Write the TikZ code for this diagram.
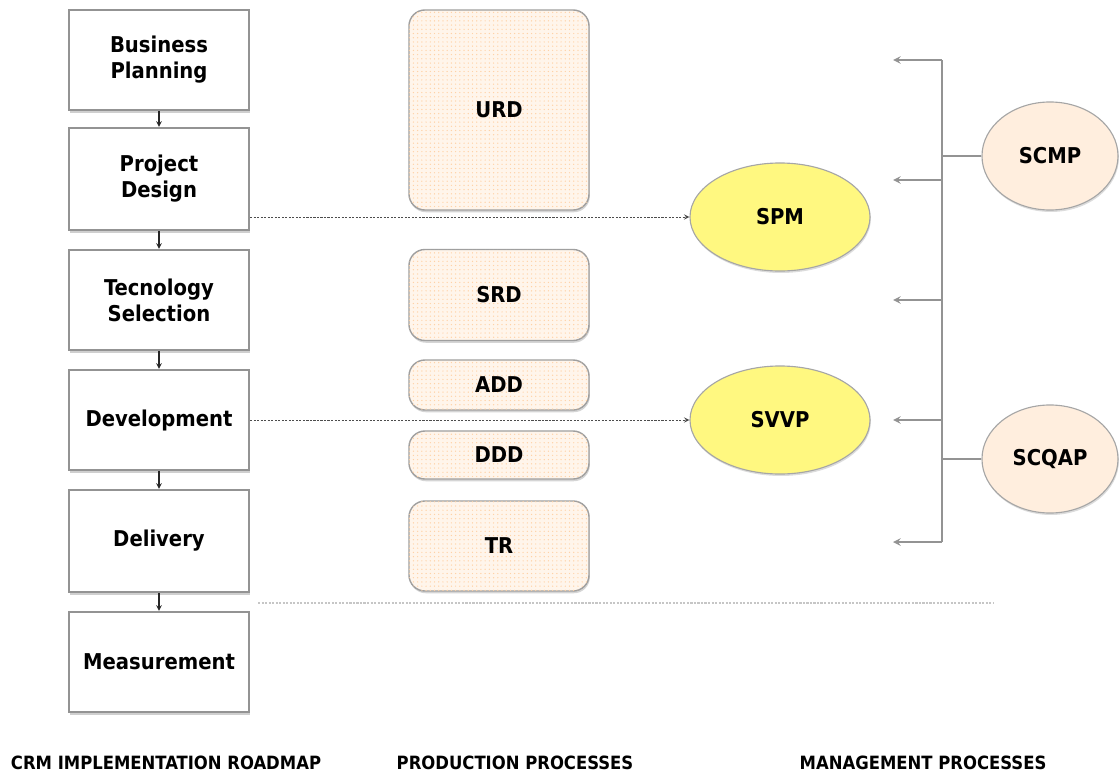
\documentclass[tikz,border=0pt]{standalone}
\usepackage{fontspec}
\setmainfont{DejaVu Sans Condensed}
\usetikzlibrary{shapes.geometric,shadows,patterns,positioning}

\tikzset{
  stage/.style={draw=gray!85,line width=1.6pt,fill=white,minimum width=4.5cm,
    align=center,font=\bfseries\fontsize{15.5}{18.5}\selectfont,
    drop shadow={shadow xshift=0.6pt,shadow yshift=-1.8pt,fill=gray!75}},
  proddoc/.style={draw=gray!75,line width=1pt,rounded corners=0.4cm,fill=orange!8,
    postaction={pattern=dots,pattern color=orange!35},minimum width=4.5cm,
    font=\bfseries\fontsize{15.5}{18.5}\selectfont,
    drop shadow={shadow xshift=0.6pt,shadow yshift=-1.6pt,fill=gray!65}},
  plan/.style={ellipse,draw=gray!70,line width=0.8pt,fill=yellow!50,
    minimum width=4.5cm,minimum height=2.7cm,font=\bfseries\fontsize{15.5}{18.5}\selectfont,
    drop shadow={shadow xshift=0.6pt,shadow yshift=-1.4pt,fill=gray!55}},
  mgmt/.style={ellipse,draw=gray!70,line width=0.8pt,fill=orange!13,
    minimum width=3.4cm,minimum height=2.7cm,font=\bfseries\fontsize{15.5}{18.5}\selectfont,
    drop shadow={shadow xshift=0.6pt,shadow yshift=-1.4pt,fill=gray!55}},
  flow/.style={->,>=stealth,line width=0.8pt,black!85},
  bus/.style={line width=1.4pt,gray!85},
  busarrow/.style={->,>=stealth,line width=1.4pt,gray!85},
  dotline/.style={->,>=stealth,line width=0.7pt,black!70,dash pattern=on 1.5pt off 1pt},
  caption/.style={font=\bfseries\fontsize{13}{15.5}\selectfont}
}

\begin{document}
\begin{tikzpicture}[x=0.025cm,y=-0.025cm]
  \useasboundingbox (0,0) rectangle (1119,776);

  \node[stage,minimum height=2.5cm]  (bp)  at (159,60)  {Business\\Planning};
  \node[stage,minimum height=2.55cm] (pd)  at (159,179) {Project\\Design};
  \node[stage,minimum height=2.5cm]  (ts)  at (159,300) {Tecnology\\Selection};
  \node[stage,minimum height=2.5cm]  (dev) at (159,420) {Development};
  \node[stage,minimum height=2.55cm] (del) at (159,541) {Delivery};
  \node[stage,minimum height=2.5cm]  (mea) at (159,662) {Measurement};

  \draw[flow] (bp) -- (pd);
  \draw[flow] (pd) -- (ts);
  \draw[flow] (ts) -- (dev);
  \draw[flow] (dev) -- (del);
  \draw[flow] (del) -- (mea);

  \node[proddoc,minimum height=5cm]    (urd) at (499,110) {URD};
  \node[proddoc,minimum height=2.275cm] (srd) at (499,295) {SRD};
  \node[proddoc,minimum height=1.25cm] (add) at (499,385) {ADD};
  \node[proddoc,minimum height=1.2cm]  (ddd) at (499,455) {DDD};
  \node[proddoc,minimum height=2.25cm] (tr)  at (499,546) {TR};

  \node[plan] (spm)  at (780,217) {SPM};
  \node[plan] (svvp) at (780,420) {SVVP};

  \draw[dotline] (pd.east |- spm.west) -- (spm.west);
  \draw[dotline] (dev.east) -- (svvp.west);

  \node[mgmt] (scmp)  at (1050,156) {SCMP};
  \node[mgmt] (scqap) at (1050,459) {SCQAP};

  \foreach \y [count=\i] in {60,180,300,420,542}{
    \coordinate (bus\i) at (942,\y);
    \coordinate (out\i) at (893,\y);
    \draw[busarrow] (bus\i) -- (out\i);
  }
  \draw[bus] (bus1) -- (bus5);
  \draw[bus] (scmp.west) -- (scmp.west -| bus1);
  \draw[bus] (scqap.west) -- (scqap.west -| bus1);

  \coordinate (sepL) at (258,603);
  \coordinate (sepR) at (994,603);
  \draw[gray!45,line width=1.2pt,dash pattern=on 1.5pt off 1pt] (sepL) -- (sepR);

  \node[caption] (roadmap) at (166,763) {CRM IMPLEMENTATION ROADMAP};
  \node[caption] (prod)    at (515,763) {PRODUCTION PROCESSES};
  \node[caption] (manage)  at (923,763) {MANAGEMENT PROCESSES};
\end{tikzpicture}
\end{document}
